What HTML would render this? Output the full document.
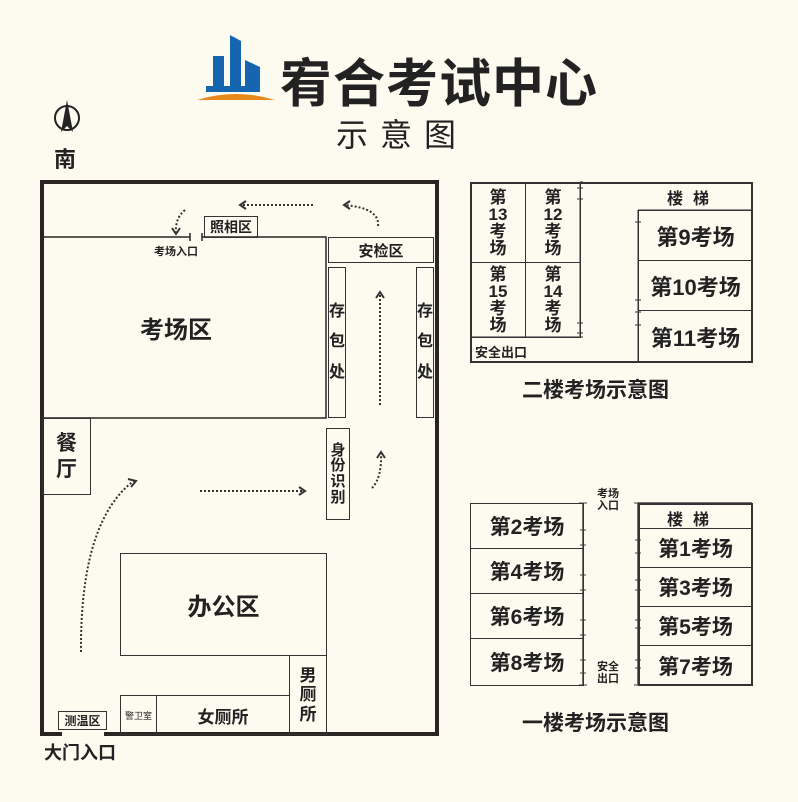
<!DOCTYPE html>
<html><head><meta charset="utf-8"><style>
body{margin:0;background:#fdfbf0;}
#c{position:relative;width:798px;height:802px;overflow:hidden;background:#fdfbf0;font-family:"Liberation Sans","Noto Sans CJK SC",sans-serif;color:#222;}
.b{position:absolute;box-sizing:border-box;border:1.5px solid #333;display:flex;align-items:center;justify-content:center;text-align:center;font-weight:bold;}
.t{position:absolute;font-weight:bold;white-space:nowrap;}
.v{line-height:1.05;}
</style></head><body><div id="c">
<svg width="798" height="802" style="position:absolute;left:0;top:0">
<!-- logo -->
<polygon points="213,56 224,56 224,88 213,88" fill="#1565b0"/>
<polygon points="230,35 241,41 241,88 230,88" fill="#1565b0"/>
<polygon points="245,60 260,67 260,92 245,92" fill="#1565b0"/>
<polygon points="206,86 245,86 245,92 206,92" fill="#1565b0"/>
<path d="M197,100 Q236,88 275,100 Z" fill="#e8891c"/>
<!-- compass -->
<circle cx="67" cy="118" r="12" fill="none" stroke="#222" stroke-width="2"/>
<polygon points="67,100 61,132 67,126 73,132" fill="#222"/>
<!-- main box -->
<g stroke="#2a2522" fill="none">
<path d="M62,734 L42,734 L42,182 L437,182 L437,734 L104,734" stroke-width="4"/>
<path d="M42,237 L190,237 M190,233 L190,241 M202,233 L202,241 M202,237 L326,237 L326,418 L42,418" stroke-width="1.5"/>
</g>
<g stroke="#333" stroke-width="2" stroke-dasharray="2,2" fill="none">
<path d="M313,205 L240,205"/>
<path d="M185,210 Q175,218 176,233"/>
<path d="M378,226 Q380,208 344,205"/>
<path d="M380,405 L380,292"/>
<path d="M372,488 Q382,478 381,452"/>
<path d="M200,491 L305,491"/>
<path d="M81,652 Q80,520 135,480"/>
</g>
<g stroke="#333" stroke-width="2" fill="none">
<path d="M246,201 L240,205 L246,209"/>
<path d="M350,201 L344,205 L350,209"/>
<path d="M172,228 L176,234 L180,228"/>
<path d="M376,298 L380,292 L384,298"/>
<path d="M377,458 L381,452 L385,458"/>
<path d="M299,487 L305,491 L299,495"/>
<path d="M128,479 L136,481 L131,487"/>
</g>
<!-- second floor ticks -->
<g stroke="#555" stroke-width="1.2" fill="none">
<path d="M580,182 L580,337 M470,337 L583,337 M580,182 L583,182 M577,188 L583,188 M577,199 L583,199 M577,323 L583,323 M577,333 L583,333"/>
<path d="M638,210 L752,210 M638,210 L638,362 M635,222 L641,222 M635,300 L641,300 M635,312 L641,312 M635,325 L641,325"/>
</g>
<!-- first floor walls -->
<g stroke="#444" stroke-width="1.5" fill="none">
<path d="M583,503 L583,685 M638,503 L638,685 M638,503 L752,503"/>
<path d="M579,503 L587,503 M579,685 L587,685 M634,503 L642,503 M634,685 L642,685" stroke-width="1"/>
<path d="M580,530 L586,530 M580,545 L586,545 M580,575 L586,575 M580,590 L586,590 M580,620 L586,620 M580,635 L586,635 M580,660 L586,660 M580,673 L586,673 M635,540 L641,540 M635,553 L641,553 M635,580 L641,580 M635,590 L641,590 M635,620 L641,620 M635,628 L641,628 M635,660 L641,660 M635,668 L641,668" stroke-width="1"/>
</g>
</svg>
<div class="t" style="left:280px;top:42px;font-size:52px;letter-spacing:1px;">宥合考试中心</div>
<div class="t" style="left:336px;top:110px;font-size:32px;font-weight:normal;letter-spacing:12px;">示意图</div>
<div class="t" style="left:54px;top:142px;font-size:22px;">南</div>

<div class="b" style="left:204px;top:216px;width:54px;height:22px;font-size:14px;">照相区</div>
<div class="t" style="left:154px;top:243px;font-size:11px;">考场入口</div>
<div class="t" style="left:140px;top:310px;font-size:24px;">考场区</div>
<div class="b" style="left:328px;top:237px;width:106px;height:26px;font-size:15px;">安检区</div>
<div class="b v" style="left:328px;top:267px;width:18px;height:151px;font-size:16px;line-height:1.9;">存<br>包<br>处</div>
<div class="b v" style="left:416px;top:267px;width:18px;height:151px;font-size:16px;line-height:1.9;">存<br>包<br>处</div>
<div class="b v" style="left:326px;top:428px;width:24px;height:92px;font-size:15px;">身<br>份<br>识<br>别</div>
<div class="b v" style="left:42px;top:418px;width:49px;height:77px;font-size:21px;line-height:1.2;">餐<br>厅</div>
<div class="b" style="left:120px;top:553px;width:207px;height:103px;font-size:24px;">办公区</div>
<div class="b v" style="left:289px;top:655px;width:38px;height:80px;font-size:17px;line-height:1.15;">男<br>厕<br>所</div>
<div class="b" style="left:156px;top:695px;width:134px;height:40px;font-size:17px;">女厕所</div>
<div class="b" style="left:120px;top:695px;width:37px;height:40px;font-size:9px;font-weight:normal;">警卫室</div>
<div class="b" style="left:58px;top:711px;width:49px;height:19px;font-size:12px;">测温区</div>
<div class="t" style="left:44px;top:739px;font-size:18px;">大门入口</div>

<!-- second floor -->
<div class="b" style="left:470px;top:182px;width:283px;height:181px;border-width:2px;"></div>
<div class="b v" style="left:470px;top:182px;width:56px;height:81px;font-size:17px;line-height:1.0;">第<br>13<br>考<br>场</div>
<div class="b v" style="left:525px;top:182px;width:56px;height:81px;font-size:17px;line-height:1.0;">第<br>12<br>考<br>场</div>
<div class="b v" style="left:470px;top:262px;width:56px;height:76px;font-size:17px;line-height:1.0;">第<br>15<br>考<br>场</div>
<div class="b v" style="left:525px;top:262px;width:56px;height:76px;font-size:17px;line-height:1.0;">第<br>14<br>考<br>场</div>
<div class="t" style="left:475px;top:342px;font-size:13px;">安全出口</div>
<div class="t" style="left:667px;top:185px;font-size:16px;letter-spacing:10px;">楼梯</div>
<div class="b" style="left:638px;top:210px;width:115px;height:51px;font-size:22px;">第9考场</div>
<div class="b" style="left:638px;top:260px;width:115px;height:51px;font-size:22px;">第10考场</div>
<div class="b" style="left:638px;top:310px;width:115px;height:53px;font-size:22px;">第11考场</div>
<div class="t" style="left:522px;top:374px;font-size:21px;">二楼考场示意图</div>

<!-- first floor -->
<div class="b" style="left:470px;top:503px;width:114px;height:46px;font-size:21px;">第2考场</div>
<div class="b" style="left:470px;top:548px;width:114px;height:46px;font-size:21px;">第4考场</div>
<div class="b" style="left:470px;top:593px;width:114px;height:46px;font-size:21px;">第6考场</div>
<div class="b" style="left:470px;top:638px;width:114px;height:48px;font-size:21px;">第8考场</div>
<div class="t v" style="left:597px;top:489px;font-size:11px;text-align:center;">考场<br>入口</div>
<div class="t v" style="left:597px;top:662px;font-size:11px;text-align:center;">安全<br>出口</div>
<div class="b" style="left:638px;top:503px;width:115px;height:183px;border-width:2px;"></div>
<div class="t" style="left:667px;top:506px;font-size:16px;letter-spacing:10px;">楼梯</div>
<div class="b" style="left:638px;top:528px;width:115px;height:40px;font-size:21px;">第1考场</div>
<div class="b" style="left:638px;top:567px;width:115px;height:40px;font-size:21px;">第3考场</div>
<div class="b" style="left:638px;top:606px;width:115px;height:40px;font-size:21px;">第5考场</div>
<div class="b" style="left:638px;top:645px;width:115px;height:41px;font-size:21px;">第7考场</div>
<div class="t" style="left:522px;top:707px;font-size:21px;">一楼考场示意图</div>
</div></body></html>
